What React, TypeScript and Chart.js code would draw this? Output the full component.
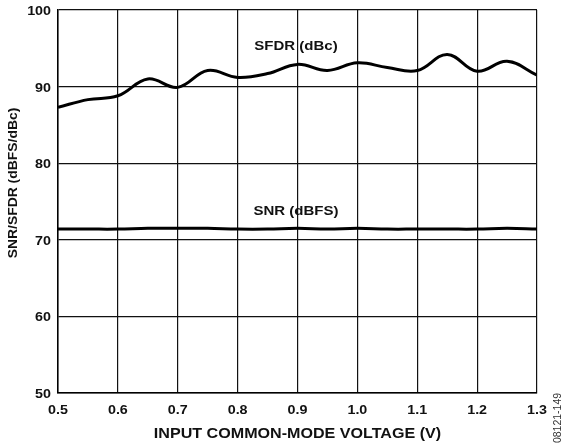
import React, { useEffect, useRef } from "react";
import { Chart, registerables } from "chart.js";

Chart.register(...registerables);

const voltages = [0.5, 0.55, 0.6, 0.65, 0.7, 0.75, 0.8, 0.85, 0.9, 0.95, 1.0, 1.05, 1.1, 1.15, 1.2, 1.25, 1.3];
const sfdr = [87.3, 88.3, 88.8, 91.0, 89.9, 92.1, 91.2, 91.7, 92.9, 92.1, 93.1, 92.5, 92.1, 94.2, 92.0, 93.3, 91.5];
const snr = [71.4, 71.4, 71.4, 71.5, 71.5, 71.5, 71.4, 71.4, 71.5, 71.4, 71.5, 71.4, 71.4, 71.4, 71.4, 71.5, 71.4];
const xTicks = [0.5, 0.6, 0.7, 0.8, 0.9, 1.0, 1.1, 1.2, 1.3];
const yTicks = [50, 60, 70, 80, 90, 100];
const seriesLabels = ["SFDR (dBc)", "SNR (dBFS)"];
const xTitle = "INPUT COMMON-MODE VOLTAGE (V)";
const yTitle = "SNR/SFDR (dBFS/dBc)";
const figureId = "08121-149";

const FONT = "'Liberation Sans', Arial, sans-serif";

function stretchedText(
  ctx: CanvasRenderingContext2D,
  text: string,
  x: number,
  y: number,
  align: CanvasTextAlign,
  sx: number,
  rot = 0
) {
  ctx.save();
  ctx.translate(x, y);
  if (rot) ctx.rotate(rot);
  ctx.scale(sx, 1);
  ctx.textAlign = align;
  ctx.textBaseline = "alphabetic";
  ctx.fillText(text, 0, 0);
  ctx.restore();
}

export default function App() {
  const ref = useRef<HTMLCanvasElement>(null);
  useEffect(() => {
    document.body.style.margin = "0";
    const labelPlugin = {
      id: "labels",
      afterDraw(chart: any) {
        const ctx: CanvasRenderingContext2D = chart.ctx;
        const xs = chart.scales.x;
        const ys = chart.scales.y;
        ctx.save();
        ctx.fillStyle = "#111";
        ctx.font = `bold 13px ${FONT}`;
        xTicks.forEach((v) => {
          stretchedText(ctx, v.toFixed(1), xs.getPixelForValue(v), 414, "center", 1.1);
        });
        yTicks.forEach((v) => {
          stretchedText(ctx, String(v), 51, ys.getPixelForValue(v) + 5, "right", 1.1);
        });
        ctx.font = `bold 14px ${FONT}`;
        stretchedText(ctx, xTitle, 297.5, 437.5, "center", 1.15);
        ctx.font = `bold 13px ${FONT}`;
        stretchedText(ctx, yTitle, 17, 183, "center", 1.07, -Math.PI / 2);
        ctx.font = `bold 12px ${FONT}`;
        stretchedText(ctx, seriesLabels[0], 296, 50, "center", 1.25);
        stretchedText(ctx, seriesLabels[1], 296, 214.5, "center", 1.25);
        ctx.fillStyle = "#333";
        ctx.font = `10px ${FONT}`;
        stretchedText(ctx, figureId, 561, 418, "center", 1.05, -Math.PI / 2);
        ctx.restore();
      },
    };
    const chart = new Chart(ref.current!, {
      type: "line",
      data: {
        datasets: [
          {
            label: seriesLabels[0],
            data: voltages.map((v, i) => ({ x: v, y: sfdr[i] })),
            borderColor: "#000",
            borderWidth: 3,
            pointRadius: 0,
            tension: 0.4,
            fill: false,
          },
          {
            label: seriesLabels[1],
            data: voltages.map((v, i) => ({ x: v, y: snr[i] })),
            borderColor: "#000",
            borderWidth: 3,
            pointRadius: 0,
            tension: 0.4,
            fill: false,
          },
        ],
      },
      options: {
        animation: false,
        responsive: false,
        layout: { padding: { top: 10, right: 25, left: 0, bottom: 0 } },
        plugins: { legend: { display: false }, tooltip: { enabled: false } },
        scales: {
          x: {
            type: "linear",
            min: 0.5,
            max: 1.3,
            afterBuildTicks(scale: any) {
              scale.ticks = xTicks.map((v) => ({ value: v }));
            },
            afterFit(scale: any) {
              scale.height = 52;
            },
            border: { color: "#000", width: 1.5 },
            grid: { color: "#111", lineWidth: 1.2, drawTicks: false },
            ticks: { display: false },
          },
          y: {
            type: "linear",
            min: 50,
            max: 100,
            afterBuildTicks(scale: any) {
              scale.ticks = yTicks.map((v) => ({ value: v }));
            },
            afterFit(scale: any) {
              scale.width = 58;
            },
            border: { color: "#000", width: 1.5 },
            grid: { color: "#111", lineWidth: 1.2, drawTicks: false },
            ticks: { display: false },
          },
        },
      },
      plugins: [labelPlugin],
    } as any);
    return () => chart.destroy();
  }, []);
  return (
    <div style={{ width: 562, height: 445, background: "#fff" }}>
      <canvas ref={ref} width={562} height={445} />
    </div>
  );
}
